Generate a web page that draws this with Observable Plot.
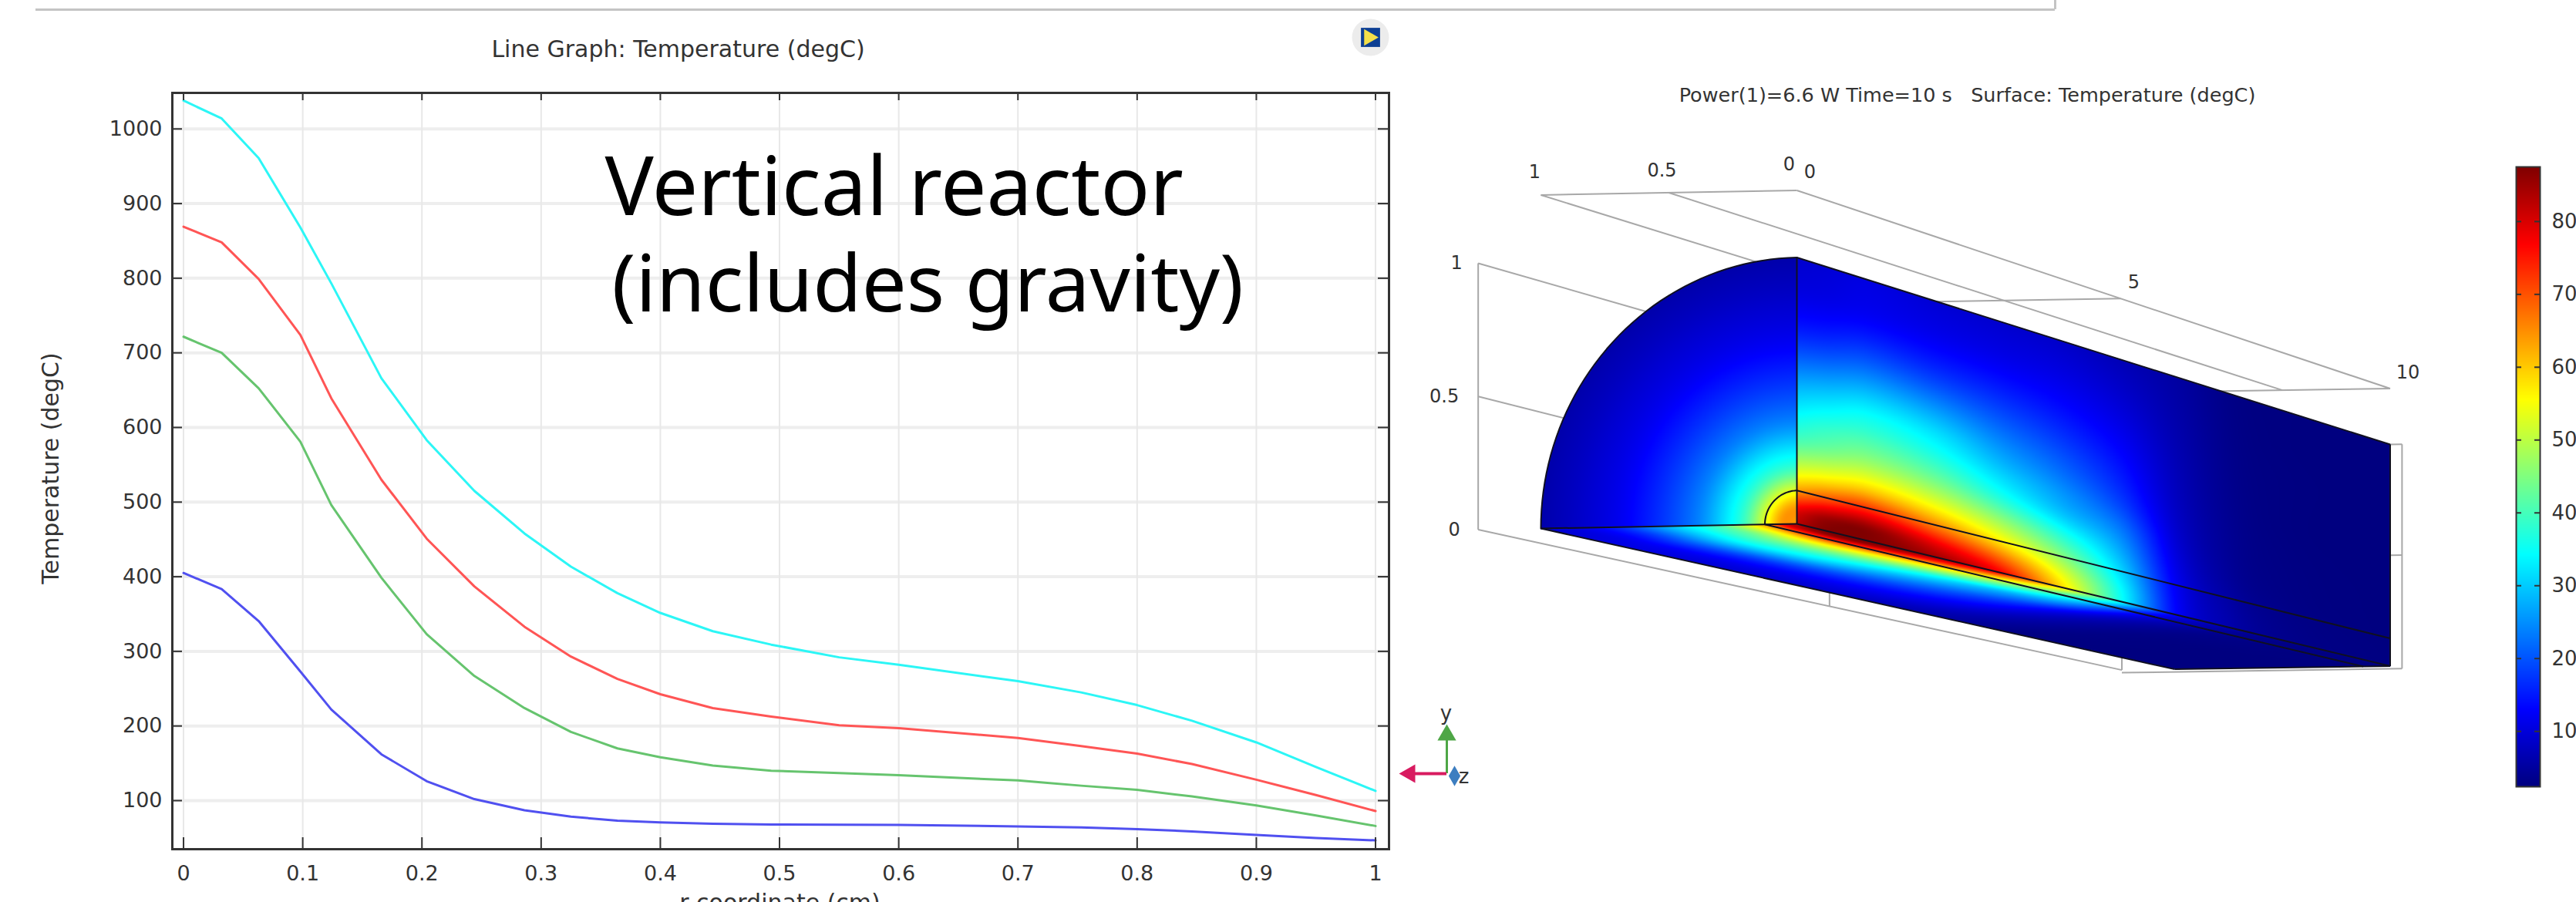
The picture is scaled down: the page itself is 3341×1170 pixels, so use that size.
<!DOCTYPE html>
<html><head><meta charset="utf-8">
<script src="https://cdn.jsdelivr.net/npm/d3@7"></script>
<script src="https://cdn.jsdelivr.net/npm/@observablehq/plot@0.6"></script>
<style>
html,body{margin:0;padding:0;background:#fff;width:3341px;height:1170px;overflow:hidden}
#page{position:relative;width:3341px;height:1170px;overflow:hidden}
</style></head><body><div id="page"></div>
<script>
// ---------- line graph data ----------
const rCoord = [0,.032,.063,.098,.124,.166,.204,.244,.286,.325,.364,.4,.444,.493,.55,.6,.7,.753,.8,.846,.9,.95,1];
const tCyan  = [1038,1014,961,868,793,666,583,515,458,413.5,378,351.5,327,309,292,282,260,245,228,207,178,145,113];
const tRed   = [869,848,799,724,639,530,451,387,333,293,263,242.5,224,212.5,201,197,184,173,163,149,128,107.5,86];
const tGreen = [721.6,700,652.6,581,496,398.6,323,267,224,192,170,158,147,140,137,134,127,120,114.5,105.6,93.6,80,66];
const tBlue  = [405,383.5,340.6,273,222,162,126,102,87,78.6,73,70.7,69,68,67.7,67.4,65.4,64,61.8,58.7,54,50,46.7];
const xTicks = [0,.1,.2,.3,.4,.5,.6,.7,.8,.9,1];
const yTicks = [100,200,300,400,500,600,700,800,900,1000];
// ---------- surface temperatures read from the colours ----------
// end-cap disc (radius -> T)
const discR = [0,.06,.125,.2,.27,.4,.65,.85,1];
const discT = [640,640,530,400,330,230,130,85,60];
// wall surfaces: rows are z, columns r
const fieldR = [0,.05,.125,.2,.3,.4,.5,.7,.85,1];
const fieldZ = [0,.4,1,2,3,4,5,6,7,8,10];
const fieldT = [
 [830,790,640,530,415,350,290,165,110,90],
 [875,845,690,560,440,375,310,175,115,95],
 [875,860,725,590,470,395,335,195,125,105],
 [850,790,660,550,440,365,310,180,120,95],
 [780,700,575,480,370,305,255,165,115,90],
 [590,545,460,385,295,250,210,145,110,85],
 [355,345,310,275,230,185,155,115,90,70],
 [125,122,115,105,92,82,75,65,58,52],
 [58,56,50,44,40,38,36,33,31,29],
 [34,33,31,29,28,27,26,26,25,25],
 [25,25,24,24,24,24,24,24,24,24]];
// ---------- colour bar ----------
const cbarDomain = [24,875];
const cbarTicks = [100,200,300,400,500,600,700,800];
// ---------- 3D view: perspective box (x and y in cm, z in cm) ----------
const viewNear = {ox:2330,oy:679,xx:-332,xy:6,yy:-345.5};
const viewFar  = {ox:3099.5,oy:863.5,xx:-279.5,xy:4.1,yy:-287.5};
const zLen = 10, coilR = .125, topY = 1.252, wallX = 1.245, endX = -.055;

function project([X,Y,z]){
  const t=z/zLen, a=(1-t)/Math.abs(viewNear.yy), b=t/Math.abs(viewFar.yy), s=a+b;
  const nx=viewNear.ox+X*viewNear.xx, ny=viewNear.oy+X*viewNear.xy+Y*viewNear.yy;
  const fx=viewFar.ox+X*viewFar.xx,  fy=viewFar.oy+X*viewFar.xy+Y*viewFar.yy;
  return [(a*nx+b*fx)/s,(a*ny+b*fy)/s];
}
function squareToQuad(p){ // p: (0,0),(1,0),(1,1),(0,1)
  const [[x0,y0],[x1,y1],[x2,y2],[x3,y3]]=p;
  const dx1=x1-x2,dx2=x3-x2,sx=x0-x1+x2-x3,dy1=y1-y2,dy2=y3-y2,sy=y0-y1+y2-y3;
  const d=dx1*dy2-dx2*dy1, g=(sx*dy2-dx2*sy)/d, h=(dx1*sy-sx*dy1)/d;
  const a=x1-x0+g*x1,b=x3-x0+h*x3,c=x0,dd=y1-y0+g*y1,e=y3-y0+h*y3,f=y0;
  const A=e-f*h,B=c*h-b,C=b*f-c*e,D=f*g-dd,E=a-c*g,F=c*dd-a*f,G=dd*h-e*g,H=b*g-a*h,I=a*e-b*dd;
  return (x,y)=>{const w=G*x+H*y+I;return [(A*x+B*y+C)/w,(D*x+E*y+F)/w];};
}
const invA=squareToQuad([project([0,0,0]),project([0,0,zLen]),project([0,1,zLen]),project([0,1,0])]);
const invB=squareToQuad([project([0,0,0]),project([0,0,zLen]),project([1,0,zLen]),project([1,0,0])]);
function hermite(xs,ys,i,x){
  const n=xs.length, slope=k=>{const a=Math.max(0,k-1),b=Math.min(n-1,k+1);return (ys[b]-ys[a])/(xs[b]-xs[a]);};
  const h=xs[i+1]-xs[i], s=(x-xs[i])/h, s2=s*s, s3=s2*s;
  return (2*s3-3*s2+1)*ys[i]+(s3-2*s2+s)*h*slope(i)+(-2*s3+3*s2)*ys[i+1]+(s3-s2)*h*slope(i+1);
}
const colsT=fieldR.map((_,i)=>fieldT.map(row=>row[i]));
function lookup(r,z){
  const i=Math.min(fieldR.length-2,Math.max(0,d3.bisectRight(fieldR,r)-1));
  const j=Math.min(fieldZ.length-2,Math.max(0,d3.bisectRight(fieldZ,z)-1));
  const across=fieldR.map((_,k)=>Math.abs(k-i)<=2?hermite(fieldZ,colsT[k],j,z):0);
  return hermite(fieldR,across,i,r);
}
function discLookup(r){
  const i=Math.min(discR.length-2,Math.max(0,d3.bisectRight(discR,r)-1));
  return hermite(discR,discT,i,r);
}
function surface(px,py){
  if(px>=viewNear.ox){
    const [t,u]=invA(px,py);
    if(t>=0&&t<=1&&u>=0&&u<=1) return lookup(u,t*zLen);
  } else {
    const xr=(viewNear.ox-px)/-viewNear.xx, yr=(viewNear.oy+xr*viewNear.xy-py)/-viewNear.yy;
    if(yr>=0){const r=Math.hypot(xr,yr); return r<=1?discLookup(r):NaN;}
  }
  const [t,u]=invB(px,py);
  if(t>=0&&t<=1&&u>=0&&u<=1) return lookup(u,t*zLen);
  return NaN;
}
function jet(t){
  t=Math.max(0,Math.min(1,t));
  const c=x=>Math.round(255*Math.max(0,Math.min(1,x)));
  return `rgb(${c(1.5-Math.abs(4*t-3))},${c(1.5-Math.abs(4*t-2))},${c(1.5-Math.abs(4*t-1))})`;
}
const colorScale={type:"linear",domain:cbarDomain,interpolate:jet};

const seg=(a,b)=>({a,b});
const wire=[
 seg([0,topY,0],[1,topY,0]), seg([0,topY,0],[0,topY,10]), seg([.5,topY,0],[.5,topY,10]), seg([1,topY,0],[1,topY,10]),
 seg([0,topY,5],[1,topY,5]), seg([0,topY,10],[1,topY,10]),
 seg([wallX,0,0],[wallX,1,0]), seg([wallX,1,0],[wallX,1,10]), seg([wallX,.5,0],[wallX,.5,10]), seg([wallX,0,0],[wallX,0,10]),
 seg([wallX,0,5],[wallX,.1,5]), seg([wallX,0,10],[wallX,.1,10]),
 seg([endX,-.012,10],[wallX,-.012,10]), seg([endX,-.012,10],[endX,1,10]), seg([endX,.5,10],[0,.5,10]), seg([endX,1,10],[0,1,10])
];
const arc=(R)=>d3.range(0,91,2).map(a=>project([R*Math.cos(a*Math.PI/180),R*Math.sin(a*Math.PI/180),0]));
const outline=[
 seg([0,0,0],[0,1,0]), seg([0,1,0],[0,1,10]), seg([0,1,10],[0,0,10]), seg([0,0,10],[1,0,10]), seg([1,0,10],[1,0,0]), seg([1,0,0],[0,0,0]),
 seg([0,coilR,0],[0,coilR,10]), seg([0,0,0],[0,0,10]), seg([coilR,0,0],[coilR,0,10])
];
const wireLabels=[
 {t:"1",at:[1,topY,0],dx:-8,dy:-30},{t:"0.5",at:[.5,topY,0],dx:-9,dy:-29},{t:"0",at:[0,topY,0],dx:-10,dy:-34},
 {t:"0",at:[0,topY,0],dx:17,dy:-24},{t:"5",at:[0,topY,5],dx:17,dy:-21},{t:"10",at:[0,topY,10],dx:23,dy:-21},
 {t:"1",at:[wallX,1,0],dx:-28,dy:0},{t:"0.5",at:[wallX,.5,0],dx:-44,dy:0},{t:"0",at:[wallX,0,0],dx:-31,dy:0}
];
const ink="#333", font="'DejaVu Sans'";
const page=document.getElementById("page");
const base=(left,extra)=>({background:"transparent",fontFamily:font,position:"absolute",left:left+"px",top:"0",maxWidth:"none",...extra});

// ---------- left: line graph ----------
const W=1830,H=1170;
page.append(Plot.plot({
  width:W,height:H,marginLeft:223,marginRight:W-1801,marginTop:120,marginBottom:H-1101,
  style:base(0,{}),
  x:{domain:[-.0094,1.0113],label:null}, y:{domain:[34.9,1048.3],label:null},
  marks:[
    Plot.ruleY(yTicks,{stroke:"#eeeeee",strokeWidth:4}),
    Plot.ruleX(xTicks,{stroke:"#e8e8e8",strokeWidth:2}),
    Plot.line(rCoord,{x:rCoord,y:tBlue,stroke:"#5050f0",strokeWidth:3}),
    Plot.line(rCoord,{x:rCoord,y:tGreen,stroke:"#66c46e",strokeWidth:3}),
    Plot.line(rCoord,{x:rCoord,y:tRed,stroke:"#ff5555",strokeWidth:3}),
    Plot.line(rCoord,{x:rCoord,y:tCyan,stroke:"#2cf6f6",strokeWidth:3}),
    Plot.ruleX(xTicks,{stroke:ink,strokeWidth:2,insetTop:H-120-69-15}),
    Plot.ruleX(xTicks,{stroke:ink,strokeWidth:2,insetBottom:H-120-69-10}),
    Plot.ruleY(yTicks,{stroke:ink,strokeWidth:2,insetRight:1801-223-13}),
    Plot.ruleY(yTicks,{stroke:ink,strokeWidth:2,insetLeft:1801-223-14}),
    Plot.frame({stroke:ink,strokeWidth:3}),
    Plot.axisX(xTicks,{anchor:"bottom",tickSize:0,tickPadding:21,tickFormat:String,fontSize:27,fill:ink,label:null}),
    Plot.axisY(yTicks,{anchor:"left",tickSize:0,tickPadding:13,tickFormat:String,fontSize:27,fill:ink,label:null})
  ]
}));

// ---------- scene: title texts, 3D view ----------
page.append(Plot.plot({
  width:3341,height:H,margin:0,
  style:base(0,{}),
  x:{domain:[0,3341],range:[0,3341],axis:null}, y:{domain:[1170,0],range:[1170,0],axis:null},
  color:colorScale,
  marks:[
    Plot.ruleY([12],{x1:46,x2:2665,stroke:"#c4c4c4",strokeWidth:3}),
    Plot.ruleX([2665],{y1:0,y2:12,stroke:"#c4c4c4",strokeWidth:3}),
    Plot.text(["Line Graph: Temperature (degC)"],{x:879,y:64,fontSize:30,fill:ink}),
    Plot.text(["Temperature (degC)"],{x:66,y:607,rotate:-90,fontSize:30,fill:ink}),
    Plot.text(["r coordinate (cm)"],{x:1011,y:1180,lineAnchor:"bottom",fontSize:30,fill:ink}),
    Plot.text(["Power(1)=6.6 W Time=10 s   Surface: Temperature (degC)"],{x:2551,y:123,fontSize:25.5,fill:ink}),
    Plot.text(["Vertical reactor"],{x:784,y:278,textAnchor:"start",lineAnchor:"bottom",fontSize:105.5,fontFamily:"'Noto Sans'",fill:"#000"}),
    Plot.text(["(includes gravity)"],{x:793,y:403,textAnchor:"start",lineAnchor:"bottom",fontSize:103,fontFamily:"'Noto Sans'",fill:"#000"}),
    // application icon
    Plot.dot([[1777,48]],{x:d=>d[0],y:d=>d[1],r:24,fill:"#ececec"}),
    Plot.dot([[1777,48]],{x:d=>d[0],y:d=>d[1],r:14,symbol:"square",fill:"#0d3f94"}),
    Plot.dot([[1775,48]],{x:d=>d[0],y:d=>d[1],r:8,symbol:"triangle",rotate:90,fill:"#f3df4a"}),
    // grey box behind the body
    Plot.link(wire,{x1:d=>project(d.a)[0],y1:d=>project(d.a)[1],x2:d=>project(d.b)[0],y2:d=>project(d.b)[1],stroke:"#a8a8a8",strokeWidth:2}),
    Plot.raster({fill:surface,x1:1985,x2:3110,y1:325,y2:880,pixelSize:1}),
    Plot.link(outline,{x1:d=>project(d.a)[0],y1:d=>project(d.a)[1],x2:d=>project(d.b)[0],y2:d=>project(d.b)[1],stroke:"#101020",strokeWidth:2}),
    Plot.line(arc(1),{x:d=>d[0],y:d=>d[1],stroke:"#101020",strokeWidth:2}),
    Plot.line(arc(coilR),{x:d=>d[0],y:d=>d[1],stroke:"#101020",strokeWidth:2}),
    Plot.text(wireLabels,{x:d=>project(d.at)[0]+d.dx,y:d=>project(d.at)[1]+d.dy,text:"t",fontSize:24,fill:ink}),
    // orientation triad
    Plot.ruleX([1876],{y1:1003,y2:960,stroke:"#4ea646",strokeWidth:3}),
    Plot.ruleY([1003],{x1:1876,x2:1835,stroke:"#d81b60",strokeWidth:4}),
    Plot.dot([[1876,953]],{x:d=>d[0],y:d=>d[1],r:9,symbol:"triangle",fill:"#4ea646"}),
    Plot.dot([[1828,1003]],{x:d=>d[0],y:d=>d[1],r:9,symbol:"triangle",rotate:-90,fill:"#d81b60"}),
    Plot.dot([[1886,1006]],{x:d=>d[0],y:d=>d[1],r:8,symbol:"diamond",fill:"#3d7ec0"}),
    Plot.text(["y"],{x:1875,y:925,fontSize:26,fill:ink}),
    Plot.text(["z"],{x:1898,y:1007,fontSize:26,fill:ink})
  ]
}));

// ---------- colour bar ----------
page.append(Plot.plot({
  width:101,height:H,marginLeft:23,marginRight:47,marginTop:216,marginBottom:H-1020,
  style:base(3240,{overflow:"hidden"}),
  x:{domain:[0,1],axis:null}, y:{domain:cbarDomain,label:null},
  color:colorScale,
  marks:[
    Plot.raster({fill:(x,y)=>y,x1:0,x2:1,y1:cbarDomain[0],y2:cbarDomain[1],pixelSize:1}),
    Plot.ruleY(cbarTicks,{stroke:ink,strokeWidth:2,insetRight:24}),
    Plot.ruleY(cbarTicks,{stroke:ink,strokeWidth:2,insetLeft:24}),
    Plot.frame({stroke:ink,strokeWidth:2}),
    Plot.axisY(cbarTicks,{anchor:"right",tickSize:0,tickPadding:15,tickFormat:String,fontSize:26,fill:ink,label:null})
  ]
}));
</script></body></html>
